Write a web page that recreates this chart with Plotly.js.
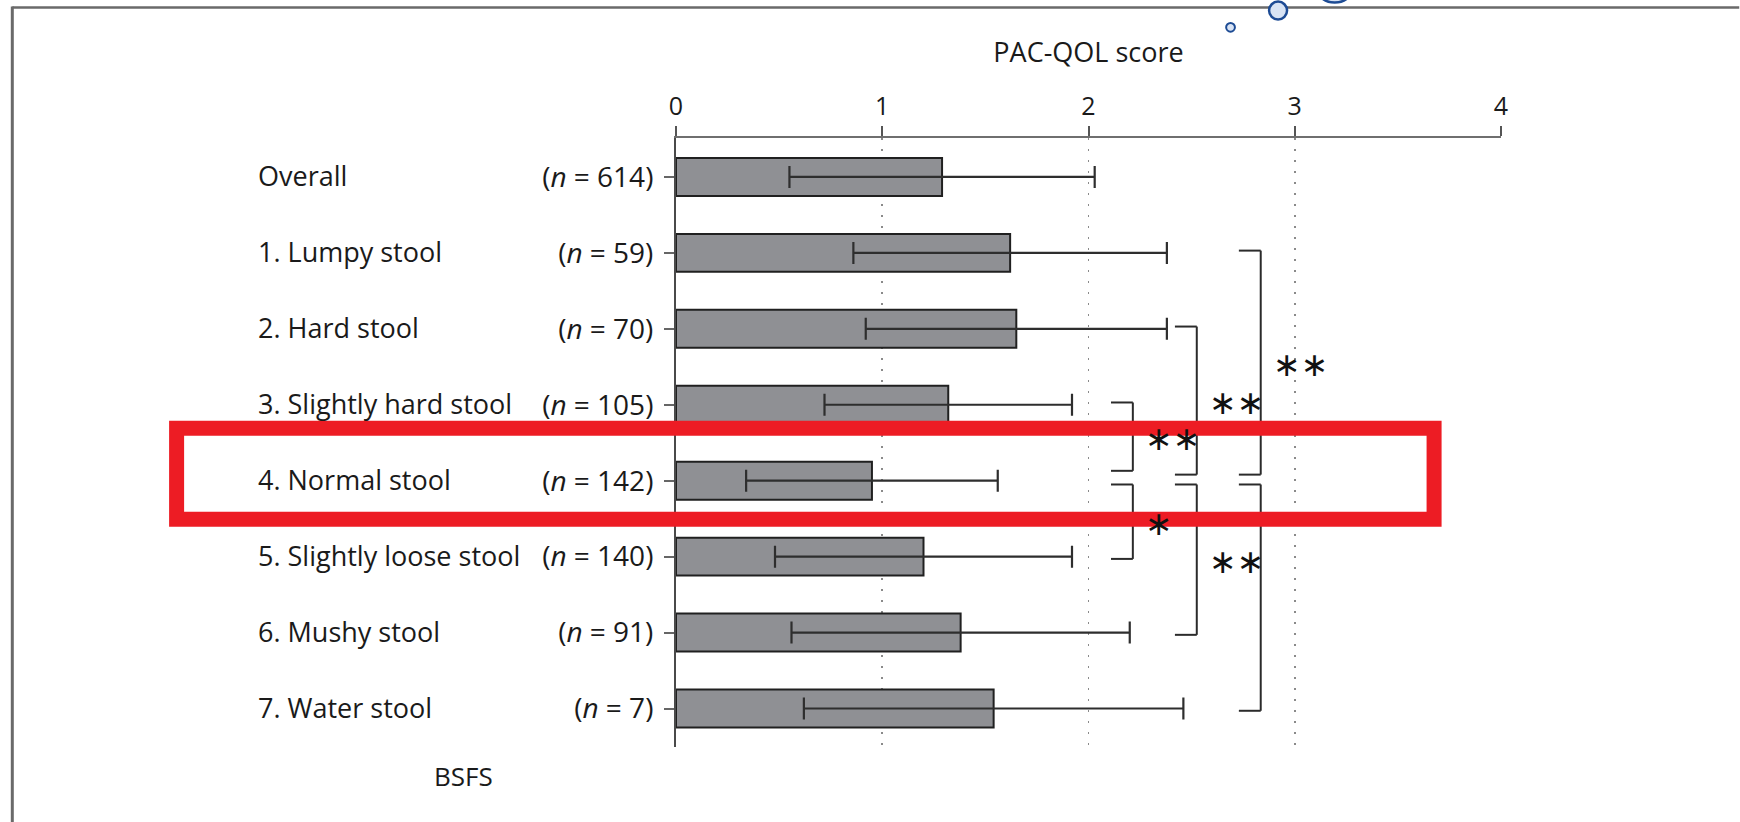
<!DOCTYPE html>
<html>
<head>
<meta charset="utf-8">
<script src="https://cdn.plot.ly/plotly-3.0.1.min.js"></script>
<style>
  html, body { margin: 0; padding: 0; background: #ffffff; }
  #chart { width: 1740px; height: 822px; }
</style>
</head>
<body>
<div id="chart"></div>
<script>
// ---------------- data ----------------
const categories = ["Overall", "1. Lumpy stool", "2. Hard stool", "3. Slightly hard stool",
                    "4. Normal stool", "5. Slightly loose stool", "6. Mushy stool", "7. Water stool"];
const sampleSizes = [614, 59, 70, 105, 142, 140, 91, 7];
const meanScores = [1.29, 1.62, 1.65, 1.32, 0.95, 1.20, 1.38, 1.54];
const sdScores = [0.74, 0.76, 0.73, 0.60, 0.61, 0.72, 0.82, 0.92];
const xTickVals = [0, 1, 2, 3, 4];
const xTitle = "PAC-QOL score";
const yTitle = "BSFS";
// significance comparisons (category indices)
const compFrom = [3, 2, 1, 4, 4, 4];
const compTo = [4, 4, 4, 5, 6, 7];
const compLabels = ["**", "**", "**", "*", "**", ""];

// ---------------- layout geometry ----------------
const W = 1740, H = 822;
const M = { l: 675.5, r: 238.5, t: 137.5, b: 75 };
const plotW = W - M.l - M.r, plotH = H - M.t - M.b;
const px2x = p => (p - M.l) / plotW;          // pixel -> paper x
const px2y = p => (H - M.b - p) / plotH;      // pixel -> paper y

const FONT = "Open Sans, Noto Sans, sans-serif";
const TXT = "#1a1a1a";

const tickText = sampleSizes.map(n => "(<i>n</i> = " + n + ")");

const bars = {
  type: "bar",
  orientation: "h",
  y: categories,
  x: meanScores,
  width: 0.5,
  marker: { color: "#8f9094", line: { color: "#202020", width: 2 } },
  error_x: { type: "data", array: sdScores, visible: true, color: "#2e2e2e", thickness: 2.2, width: 11 },
  hoverinfo: "x+y",
  showlegend: false
};

const shapes = [];
const annotations = [];

// category name labels
categories.forEach(c => {
  annotations.push({
    xref: "paper", yref: "y", x: px2x(255), y: c, text: c, showarrow: false,
    xanchor: "left", yanchor: "middle", yshift: 1, font: { family: FONT, size: 27, color: TXT }
  });
});

// y-axis title (BSFS)
annotations.push({
  xref: "paper", yref: "paper", x: px2x(463), y: px2y(776), text: yTitle, showarrow: false,
  xanchor: "center", yanchor: "middle", font: { family: FONT, size: 26, color: TXT }
});

// significance brackets
const bracketBase = 2.215, bracketStep = 0.31, arm = 0.106;
compFrom.forEach((a, k) => {
  const b = compTo[k];
  const level = Math.abs(b - a) - 1;
  const xv = bracketBase + level * bracketStep;
  let y0, y1;
  if (b === 4) { y0 = a - 0.03; y1 = b - (level === 0 ? 0.13 : 0.08); }
  else { y0 = a + 0.05; y1 = b + 0.03; }
  const col = "#2b2b2b";
  shapes.push({ type: "line", xref: "x", yref: "y", x0: xv - arm, x1: xv, y0: y0, y1: y0, line: { color: col, width: 2 } });
  shapes.push({ type: "line", xref: "x", yref: "y", x0: xv, x1: xv, y0: y0, y1: y1, line: { color: col, width: 2 } });
  shapes.push({ type: "line", xref: "x", yref: "y", x0: xv - arm, x1: xv, y0: y1, y1: y1, line: { color: col, width: 2 } });
  if (compLabels[k]) {
    annotations.push({
      xref: "x", yref: "y", x: xv, y: (y0 + y1) / 2, text: compLabels[k].replace(/\*/g, "\u2217"),
      showarrow: false, xanchor: "left", yanchor: "middle", xshift: 10, yshift: -2,
      font: { family: "DejaVu Sans, sans-serif", size: 33, color: "#111" }
    });
  }
});

// page frame lines (screenshot edges)
shapes.push({ type: "line", xref: "paper", yref: "paper", x0: px2x(11), x1: px2x(W), y0: px2y(7), y1: px2y(7),
              line: { color: "#6a6a6a", width: 2.5 }, layer: "above" });
shapes.push({ type: "line", xref: "paper", yref: "paper", x0: px2x(11), x1: px2x(11), y0: px2y(6), y1: px2y(H),
              line: { color: "#6a6a6a", width: 3 }, layer: "above" });

// blue circles (decoration at top)
[[1230.7, 26.7, 4.4, 2], [1278.3, 10, 9, 2.5], [1335, -19, 21, 2.5]].forEach(c => {
  shapes.push({ type: "circle", xref: "paper", yref: "paper",
    x0: px2x(c[0] - c[2]), x1: px2x(c[0] + c[2]), y0: px2y(c[1] + c[2]), y1: px2y(c[1] - c[2]),
    fillcolor: "#d8e3f4", line: { color: "#1d4b94", width: c[3] }, layer: "above" });
});

// red highlight box around the normal stool row
shapes.push({ type: "rect", xref: "paper", yref: "paper",
  x0: px2x(175.5), x1: px2x(1434.5), y0: px2y(519), y1: px2y(428),
  line: { color: "#ed1c24", width: 15 }, fillcolor: "rgba(0,0,0,0)", layer: "above" });

const layout = {
  width: W, height: H,
  margin: { l: M.l, r: M.r, t: M.t, b: M.b, pad: 0 },
  paper_bgcolor: "#ffffff", plot_bgcolor: "#ffffff",
  font: { family: FONT, color: TXT },
  xaxis: {
    side: "top", range: [0, 4], tickvals: xTickVals, ticktext: xTickVals.map(String),
    showline: true, linecolor: "#6f6f6f", linewidth: 2,
    ticks: "outside", ticklen: 10, tickwidth: 2, tickcolor: "#555",
    tickfont: { family: FONT, size: 25, color: TXT },
    ticklabelstandoff: 1,
    showgrid: true, gridcolor: "#8a8a8a", gridwidth: 1.6, griddash: "2px,9px",
    zeroline: false, fixedrange: true, automargin: false,
    title: { text: xTitle, font: { family: FONT, size: 27, color: TXT }, standoff: 18 }
  },
  yaxis: {
    type: "category", categoryarray: categories, categoryorder: "array",
    range: [7.507, -0.513],
    tickvals: categories, ticktext: tickText,
    showline: true, linecolor: "#4a4a4a", linewidth: 2,
    ticks: "outside", ticklen: 10, tickwidth: 2, tickcolor: "#666",
    tickfont: { family: FONT, size: 28, color: TXT },
    ticklabelstandoff: 5,
    showgrid: false, zeroline: false, fixedrange: true, automargin: false
  },
  bargap: 0.5,
  shapes: shapes,
  annotations: annotations
};

Plotly.newPlot("chart", [bars], layout, { displayModeBar: false, staticPlot: true });
</script>
</body>
</html>
